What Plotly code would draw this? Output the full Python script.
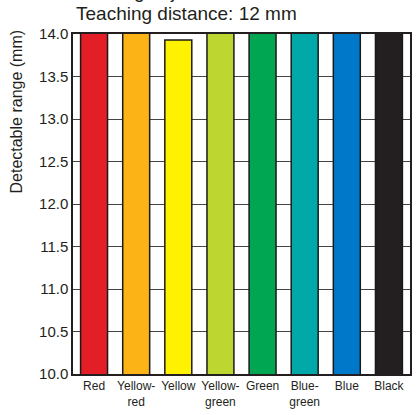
import plotly.graph_objects as go

colors_names = ["Red", "Yellow-<br>red", "Yellow", "Yellow-<br>green", "Green",
                "Blue-<br>green", "Blue", "Black"]
detect_range = [14.05, 14.05, 13.93, 14.05, 14.05, 14.05, 14.05, 14.05]
bar_colors = ["#e31e26", "#fbb316", "#fff200", "#bed630", "#00a651",
              "#00a8a8", "#0078c9", "#231f20"]
y_ticks = [10.0, 10.5, 11.0, 11.5, 12.0, 12.5, 13.0, 13.5, 14.0]

fig = go.Figure()
fig.add_trace(go.Bar(
    x=colors_names, y=detect_range,
    marker=dict(color=bar_colors, line=dict(color="#1a1a1a", width=1.5)),
    width=0.64, cliponaxis=False, hoverinfo="skip",
))

fig.update_layout(
    width=418, height=415,
    margin=dict(l=73, r=6, t=34, b=41),
    paper_bgcolor="white", plot_bgcolor="white",
    showlegend=False,
    font=dict(family="Liberation Sans, Arial, sans-serif", color="#231f20"),
    annotations=[
        dict(text="Teaching distance: 12 mm", xref="paper", yref="paper",
             x=0.002, y=1, xanchor="left", yanchor="bottom", yshift=8,
             showarrow=False, font=dict(size=19)),
        dict(text="Sensing object: Color chart", xref="paper", yref="paper",
             x=0.002, y=1, xanchor="left", yanchor="bottom", yshift=30,
             showarrow=False, font=dict(size=19)),
        dict(text="Detectable range (mm)", xref="paper", yref="paper",
             x=0, y=0.772, xanchor="center", yanchor="middle", xshift=-56,
             textangle=-90, showarrow=False, font=dict(size=16)),
    ],
)
fig.update_yaxes(
    range=[10, 14.0], tickvals=y_ticks, tickformat=".1f",
    showgrid=True, gridcolor="#444444", gridwidth=1,
    showline=True, linecolor="#231f20", linewidth=1.5, mirror=True,
    ticks="", tickfont=dict(size=15), zeroline=False,
)
fig.update_xaxes(
    showline=True, linecolor="#231f20", linewidth=1.5, mirror=True,
    ticks="", tickangle=0,
    tickfont=dict(size=12, family="Liberation Sans, Arial, sans-serif"),
)

# drop the browser's default 8px body margin so the figure fills the window
fig.write_html("out.html", config={"displayModeBar": False},
               post_script="document.body.style.margin = '0';")
